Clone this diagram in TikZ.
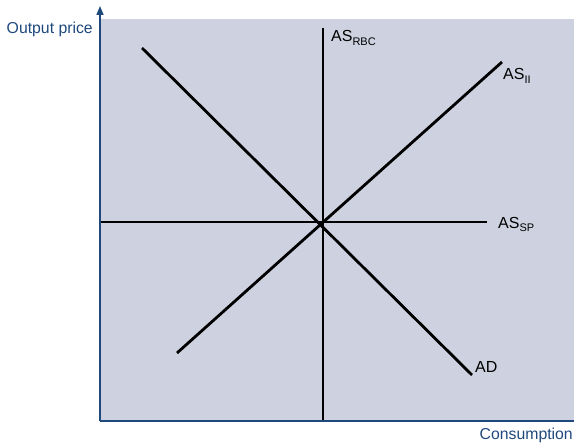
\documentclass[tikz,border=0pt]{standalone}
\usepackage{fontspec}
\setmainfont{Liberation Sans}
\usetikzlibrary{arrows.meta}
\definecolor{axisblue}{RGB}{31,73,125}
\definecolor{plotgray}{RGB}{206,210,224}
\newcommand{\lowsub}[1]{\raisebox{-4pt}{\fontsize{11}{12}\selectfont #1}}
\begin{document}
\begin{tikzpicture}[x=1pt,y=-1pt,
  curve/.style={line width=2.8pt,black},
  axisline/.style={line width=1.6pt,axisblue},
  lbl/.style={font=\fontsize{16}{18}\selectfont,text=black,inner sep=0pt},
  axlbl/.style={font=\fontsize{15.8}{18}\selectfont,text=axisblue,inner sep=0pt}]
\clip (0,0) rectangle (574,444);
\useasboundingbox (0,0) rectangle (574,444);
\fill[plotgray] (100,19) rectangle (574,421);
% coordinates
\coordinate (O) at (100,421);
\coordinate (Ytop) at (100,6);
\coordinate (Xend) at (580,421);
\coordinate (C) at (323,222);
\coordinate (RBCtop) at (323,28);
\coordinate (RBCbot) at (323,421);
\coordinate (SPl) at (100,222);
\coordinate (SPr) at (487,222);
\coordinate (ADtop) at (142,48);
\coordinate (ADbot) at (472,375);
\coordinate (IIbot) at (177,353);
\coordinate (IItop) at (502,62);
% curves
\draw[curve] (RBCbot) -- (RBCtop);
\draw[curve] (SPl) -- (SPr);
\draw[curve] (ADtop) -- (ADbot);
\draw[curve] (IIbot) -- (IItop);
% axes
\draw[axisline] (O) -- (Xend);
\draw[axisline,-{Triangle[length=9pt,width=7pt]}] (O) -- (Ytop);
% labels
\node[lbl,anchor=base west] (lRBC) at (331,42) {AS\lowsub{RBC}};
\node[lbl,anchor=base west] (lII) at (503,80) {AS\lowsub{II}};
\node[lbl,anchor=base west] (lSP) at (498,228) {AS\lowsub{SP}};
\node[lbl,anchor=base west] (lAD) at (475,372) {AD};
\node[axlbl,anchor=base east] (ylab) at (93,34) {Output price};
\node[axlbl,anchor=base east] (xlab) at (573,439) {Consumption};
\end{tikzpicture}
\end{document}
